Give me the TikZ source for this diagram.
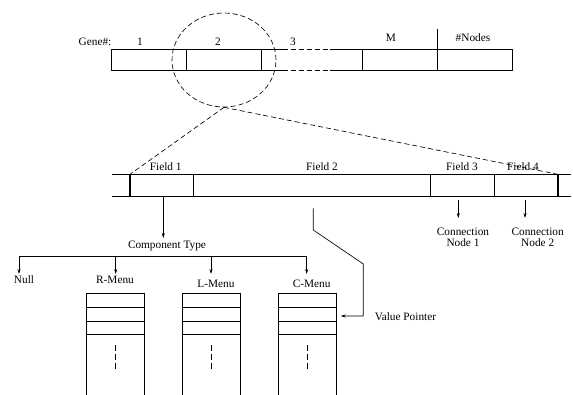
\documentclass[tikz,border=0pt]{standalone}
\usepackage{fontspec}
\setmainfont{Liberation Serif}
\usetikzlibrary{arrows.meta,shapes.geometric}
\begin{document}
\begin{tikzpicture}[x=1pt,y=-1pt,
  lbl/.style={font=\fontsize{11.3}{11.4}\selectfont, inner sep=0pt, text height=7.5pt, text depth=0pt},
  lbl2/.style={font=\fontsize{11.3}{11.4}\selectfont, inner sep=0pt, align=center, anchor=north},
  ln/.style={line width=0.65pt},
  thick bar/.style={line width=1.6pt},
  dsh/.style={line width=0.65pt, dash pattern=on 5pt off 3pt},
  arr/.style={line width=0.65pt, -{Stealth[length=5pt,width=3pt]}}]
\useasboundingbox (0,0) rectangle (573,394);

% ---- top chromosome row
\coordinate (tl) at (111.7,49.3);
\coordinate (bl) at (111.7,70.7);
\draw[ln] (283,49.3) -- (tl) -- (bl) -- (283,70.7);
\draw[dsh] (283,49.3) -- (330,49.3);
\draw[dsh] (283,70.7) -- (330,70.7);
\draw[ln] (330,49.3) -- (512,49.3) -- (512,70.7) -- (330,70.7);
\foreach \x in {186.3,261.7,362,437} \draw[ln] (\x,49.3) -- (\x,70.7);
\draw[ln] (437,29) -- (437,49.3);
\node[lbl] (gene) at (95,41.7) {Gene\#:};
\node[lbl] (g1) at (140,41.7) {1};
\node[lbl] (g2) at (218,41.7) {2};
\node[lbl] (g3) at (293,41.7) {3};
\node[lbl] (gM) at (391,37.5) {M};
\node[lbl] (gN) at (473,37.5) {\#Nodes};

% ---- zoom ellipse
\node[draw, dsh, ellipse, minimum width=104pt, minimum height=94pt, inner sep=0pt] (zoom) at (224,60) {};
\coordinate (zl) at (130,174.3);
\coordinate (zr) at (557.7,174.3);
\draw[dsh] (zoom.south) -- (zl);
\draw[dsh] (zoom.south) -- (zr);

% ---- gene field row
\draw[ln] (112,174.3) -- (571,174.3);
\draw[ln] (112,196.7) -- (571,196.7);
\foreach \x in {193,430.7,494} \draw[ln] (\x,174.3) -- (\x,196.7);
\draw[thick bar] (130,174.3) -- (130,196.7);
\draw[thick bar] (557.7,174.3) -- (557.7,196.7);
\node[lbl] (f1) at (165.7,167) {Field 1};
\node[lbl] (f2) at (322,167) {Field 2};
\node[lbl] (f3) at (462,167) {Field 3};
\node[lbl] (f4) at (523,167) {Field 4};

% ---- component type
\coordinate (f1s) at (163.3,196.7);
\node[lbl] (ct) at (167,244.3) {Component Type};
\draw[arr] (f1s) -- (163.3,238);

% connection nodes
\coordinate (f3s) at (458.3,200);
\coordinate (f4s) at (525,200);
\node[lbl2] (cn1) at (463,227.5) {Connection\\Node 1};
\node[lbl2] (cn2) at (537.7,227.5) {Connection\\Node 2};
\draw[arr] (f3s) -- (f3s |- 0,218);
\draw[arr] (f4s) -- (f4s |- 0,218);

% bus
\coordinate (b0) at (19,256.7);
\coordinate (b1) at (115.7,256.7);
\coordinate (b2) at (211,256.7);
\coordinate (b3) at (306.7,256.7);
\draw[ln] (b0) -- (b3);
\node[lbl] (null) at (24,279.3) {Null};
\node[lbl] (rm) at (115,279.3) {R-Menu};
\node[lbl] (lm) at (216,283.3) {L-Menu};
\node[lbl] (cm) at (311.7,283.3) {C-Menu};
\draw[arr] (b0) -- (b0 |- 0,274);
\draw[arr] (b1) -- (b1 |- 0,274);
\draw[arr] (b2) -- (b2 |- 0,274);
\draw[arr] (b3) -- (b3 |- 0,274);

% menu boxes
\foreach \l/\c in {86.7/115.3,182.3/211.2,278.3/307.5}{
  \draw[ln] (\l,396) -- (\l,293.6) -- (\l+57.9,293.6) -- (\l+57.9,396);
  \foreach \y in {307.3,320.9,334.4} \draw[ln] (\l,\y) -- (\l+57.9,\y);
  \draw[ln, dash pattern=on 6pt off 3pt] (\c,345) -- (\c,372);
}

% value pointer
\coordinate (vp0) at (313.3,208.3);
\coordinate (vp1) at (313.3,230);
\coordinate (vp2) at (363.3,264);
\coordinate (vp3) at (363.3,316);
\coordinate (vpe) at (340.7,316);
\draw[arr] (vp0) -- (vp1) -- (vp2) -- (vp3) -- (vpe);
\node[lbl] (vpl) at (405.5,316.7) {Value Pointer};
\end{tikzpicture}
\end{document}
